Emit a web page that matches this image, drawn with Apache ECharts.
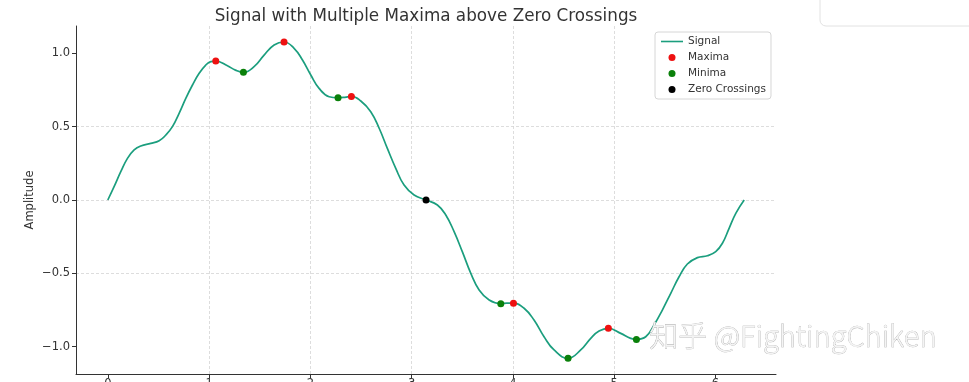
<!DOCTYPE html>
<html><head><meta charset="utf-8">
<script src="https://cdn.jsdelivr.net/npm/echarts@6/dist/echarts.min.js"></script>
<style>html,body{margin:0;padding:0;background:#fff}#c{width:969px;height:382px}</style>
</head><body><div id="c"></div>
<script>
const signalX = [0.000,0.062,0.128,0.194,0.260,0.326,0.424,0.507,0.573,0.638,0.704,0.770,0.836,0.902,0.967,1.017,1.066,1.181,1.260,1.339,1.444,1.543,1.642,1.740,1.839,1.922,2.004,2.086,2.185,2.273,2.340,2.405,2.498,2.596,2.679,2.760,2.843,2.925,3.024,3.142,3.254,3.337,3.419,3.500,3.584,3.666,3.765,3.880,3.940,4.005,4.110,4.208,4.307,4.406,4.544,4.669,4.768,4.850,4.942,5.064,5.163,5.219,5.311,5.393,5.475,5.558,5.640,5.722,5.821,5.920,6.002,6.068,6.134,6.200,6.283];
const signalY = [0.000,0.091,0.193,0.284,0.341,0.368,0.386,0.404,0.443,0.500,0.591,0.693,0.784,0.864,0.920,0.943,0.947,0.915,0.885,0.870,0.909,0.988,1.057,1.077,1.034,0.954,0.852,0.761,0.704,0.697,0.700,0.706,0.675,0.602,0.489,0.352,0.216,0.102,0.034,0.000,-0.034,-0.102,-0.216,-0.352,-0.500,-0.613,-0.682,-0.707,-0.703,-0.703,-0.738,-0.818,-0.932,-1.022,-1.079,-1.022,-0.943,-0.893,-0.875,-0.909,-0.943,-0.950,-0.932,-0.852,-0.750,-0.636,-0.523,-0.436,-0.393,-0.380,-0.352,-0.295,-0.193,-0.091,0.000];
const maximaX = [1.066,1.740,2.405,4.005,4.942];
const maximaY = [0.947,1.077,0.706,-0.703,-0.875];
const minimaX = [1.339,2.273,3.880,4.544,5.219];
const minimaY = [0.870,0.697,-0.707,-1.079,-0.950];
const zeroX = [3.142];
const zeroY = [0.000];
const xTicks = [0,1,2,3,4,5,6];
const yTicks = [-1.0,-0.5,0.0,0.5,1.0];

const zip = (a,b) => a.map((v,i)=>[v,b[i]]);
const FONT = 'DejaVu Sans';
const chart = echarts.init(document.getElementById('c'), null, {renderer:'canvas'});
const minus = v => (v < 0 ? '\u2212' : '') + Math.abs(v).toFixed(1);
chart.setOption({
  animation: false,
  backgroundColor: '#ffffff',
  textStyle: {fontFamily: FONT},
  title: {
    text: 'Signal with Multiple Maxima above Zero Crossings',
    left: 421, top: 3, textAlign: 'center',
    textStyle: {fontFamily: FONT, fontSize: 16.8, fontWeight: 'normal', color: '#333'}
  },
  grid: {left: 76, right: 193, top: 26, bottom: 8, containLabel: false, outerBoundsMode: 'none'},
  legend: {
    orient: 'vertical', left: 655, top: 32,
    padding: [3, 5, 3, 6], itemGap: 3, itemWidth: 22, itemHeight: 7,
    backgroundColor: '#fff', borderColor: '#d6d6d6', borderWidth: 1, borderRadius: 3,
    textStyle: {fontFamily: FONT, fontSize: 10.5, color: '#333', lineHeight: 13},
    data: [{name: 'Signal', icon: 'path://M0,0 L22,0 L22,1.6 L0,1.6 Z'}, 'Maxima', 'Minima', 'Zero Crossings']
  },
  xAxis: {
    type: 'value', min: -0.314, max: 6.597,
    axisLine: {show: true, onZero: false, lineStyle: {color: '#333', width: 1}},
    axisTick: {show: true, customValues: xTicks, length: 4, lineStyle: {color: '#333'}},
    axisLabel: {customValues: xTicks, margin: 4, fontSize: 11.5, color: '#333', fontFamily: FONT,
      formatter: v => String(v)},
    splitLine: {show: true, showMinLine: false, showMaxLine: false,
      lineStyle: {color: '#d4d4d4', width: 0.8, type: [3, 2]}}
  },
  yAxis: {
    type: 'value', min: -1.186, max: 1.186,
    name: 'Amplitude', nameLocation: 'middle', nameGap: 40, nameRotate: 90, nameMoveOverlap: false,
    nameTextStyle: {fontFamily: FONT, fontSize: 11.5, color: '#333'},
    axisLine: {show: true, onZero: false, lineStyle: {color: '#333', width: 1}},
    axisTick: {show: true, customValues: yTicks, length: 4, lineStyle: {color: '#333'}},
    axisLabel: {customValues: yTicks, margin: 6, fontSize: 11.5, color: '#333', fontFamily: FONT,
      formatter: minus},
    splitLine: {show: true, showMinLine: false, showMaxLine: false,
      lineStyle: {color: '#d4d4d4', width: 0.8, type: [3, 2]}}
  },
  graphic: [
    {type: 'rect', shape: {x: 820, y: -10, width: 170, height: 36, r: 6},
      style: {fill: '#fff', stroke: '#e2e2e2', lineWidth: 1}, z: 0},
    {type: 'text', left: 649, top: 321, z: 100,
      style: {text: '知乎 @FightingChiken', fontFamily: 'Noto Sans CJK SC', fontSize: 29, fontWeight: 300,
        fill: '#f4f4f4', stroke: '#a8a8a8', lineWidth: 0.6}}
  ],
  series: [
    {name: 'Signal', type: 'line', data: zip(signalX, signalY), smooth: 0.45, showSymbol: false,
      symbol: 'none', lineStyle: {color: '#1b9e7e', width: 1.7}, itemStyle: {color: '#1b9e7e'}, z: 2},
    {name: 'Maxima', type: 'scatter', data: zip(maximaX, maximaY), symbolSize: 7,
      itemStyle: {color: '#ee1111', opacity: 1}, z: 5},
    {name: 'Minima', type: 'scatter', data: zip(minimaX, minimaY), symbolSize: 7,
      itemStyle: {color: '#0a800a', opacity: 1}, z: 5},
    {name: 'Zero Crossings', type: 'scatter', data: zip(zeroX, zeroY), symbolSize: 7,
      itemStyle: {color: '#000', opacity: 1}, z: 5}
  ]
});
</script></body></html>
